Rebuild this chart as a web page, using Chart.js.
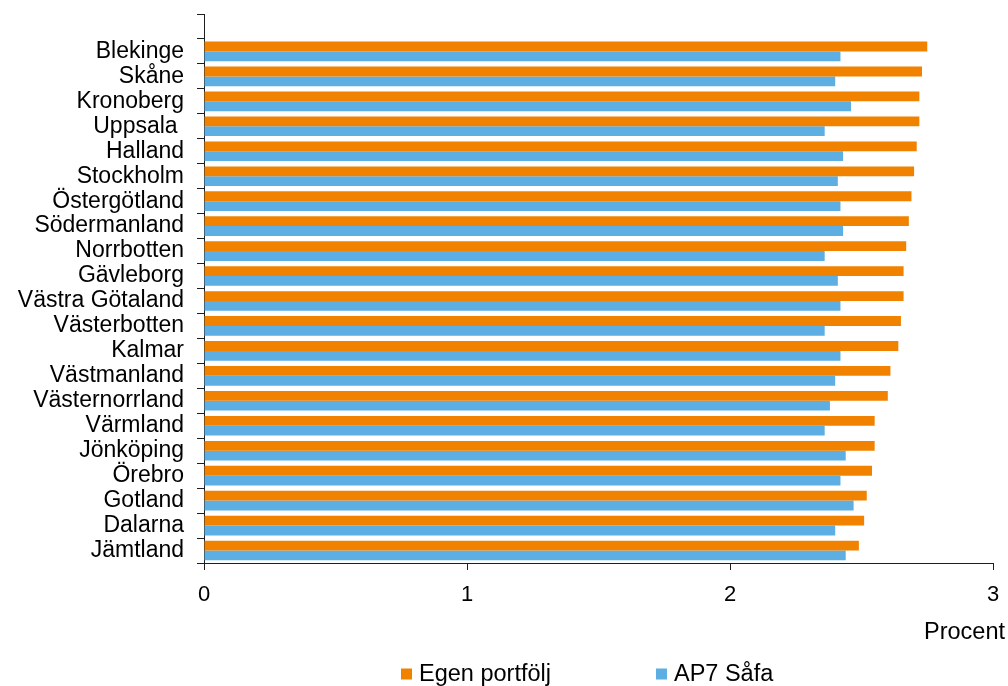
<!DOCTYPE html>
<html lang="sv">
<head>
<meta charset="utf-8">
<title>Avkastning per län</title>
<script src="https://cdn.jsdelivr.net/npm/chart.js@4.4.1/dist/chart.umd.min.js"></script>
<style>
  html, body { margin: 0; padding: 0; background: #ffffff; }
  #chart { display: block; }
</style>
</head>
<body>
<canvas id="chart" width="1008" height="686"></canvas>
<script>
// Län, sorted by the own-portfolio figure; the first row is left blank
const categories = [
  '', 'Blekinge', 'Skåne', 'Kronoberg', 'Uppsala ', 'Halland', 'Stockholm',
  'Östergötland', 'Södermanland', 'Norrbotten', 'Gävleborg', 'Västra Götaland',
  'Västerbotten', 'Kalmar', 'Västmanland', 'Västernorrland', 'Värmland',
  'Jönköping', 'Örebro', 'Gotland', 'Dalarna', 'Jämtland'
];

// Procent
const egenPortfolj = [
  null, 2.75, 2.73, 2.72, 2.72, 2.71, 2.70, 2.69, 2.68, 2.67, 2.66, 2.66,
  2.65, 2.64, 2.61, 2.60, 2.55, 2.55, 2.54, 2.52, 2.51, 2.49
];
const ap7Safa = [
  null, 2.42, 2.40, 2.46, 2.36, 2.43, 2.41, 2.42, 2.43, 2.36, 2.41, 2.42,
  2.36, 2.42, 2.40, 2.38, 2.36, 2.44, 2.42, 2.47, 2.40, 2.44
];

const seriesNames = ['Egen portfölj', 'AP7 Såfa'];
const xTicks = [0, 1, 2, 3];
const unitLabel = 'Procent';

const FONT = '"Liberation Sans", Arial, Helvetica, sans-serif';
const ORANGE = '#F08200';
const BLUE = '#5DAEE3';
const INK = '#000000';
const AXIS = '#1e1e1e';

// Unit label under the value axis plus a spaced-out legend row
const extras = {
  id: 'unitAndLegend',
  afterDraw(chart) {
    const { ctx, chartArea } = chart;
    ctx.save();
    ctx.fillStyle = INK;
    ctx.font = '23.5px ' + FONT;
    ctx.textBaseline = 'middle';
    ctx.textAlign = 'right';
    ctx.fillText(unitLabel, chartArea.right + 12, chartArea.bottom + 70);

    const y = chartArea.bottom + 111;
    let x = chartArea.left + 197;
    const box = 11;
    ctx.textAlign = 'left';
    chart.data.datasets.forEach((ds) => {
      ctx.fillStyle = ds.backgroundColor;
      ctx.fillRect(x, y - box / 2, box, box);
      ctx.fillStyle = INK;
      ctx.fillText(ds.label, x + box + 7, y + 1);
      x += 255;
    });
    ctx.restore();
  }
};

new Chart(document.getElementById('chart'), {
  type: 'bar',
  data: {
    labels: categories,
    datasets: [
      {
        label: seriesNames[0],
        data: egenPortfolj,
        backgroundColor: ORANGE,
        borderWidth: 0,
        categoryPercentage: 0.786,
        barPercentage: 1.0
      },
      {
        label: seriesNames[1],
        data: ap7Safa,
        backgroundColor: BLUE,
        borderWidth: 0,
        categoryPercentage: 0.786,
        barPercentage: 1.0
      }
    ]
  },
  options: {
    indexAxis: 'y',
    responsive: false,
    animation: false,
    devicePixelRatio: 1,
    layout: { padding: { top: 14, right: 15, left: 0, bottom: 0 } },
    plugins: {
      legend: { display: false },
      tooltip: { enabled: false },
      title: { display: false }
    },
    scales: {
      x: {
        type: 'linear',
        position: 'bottom',
        min: xTicks[0],
        max: xTicks[xTicks.length - 1],
        afterBuildTicks(scale) {
          scale.ticks = xTicks.map((v) => ({ value: v }));
        },
        afterFit(scale) {
          scale.height = 123;
          scale.paddingLeft = 0;
          scale.paddingRight = 0;
        },
        grid: {
          display: true,
          drawOnChartArea: false,
          drawTicks: true,
          tickLength: 7,
          color: AXIS,
          lineWidth: 1
        },
        border: { display: true, color: AXIS, width: 1 },
        ticks: {
          color: INK,
          font: { family: FONT, size: 22 },
          padding: 12,
          maxRotation: 0
        }
      },
      y: {
        type: 'category',
        position: 'left',
        offset: true,
        afterFit(scale) {
          scale.width = 204;
          scale.paddingTop = 0;
          scale.paddingBottom = 0;
        },
        grid: {
          display: true,
          offset: true,
          drawOnChartArea: false,
          drawTicks: true,
          tickLength: 7,
          color: AXIS,
          lineWidth: 1
        },
        border: { display: true, color: AXIS, width: 1 },
        ticks: {
          color: INK,
          font: { family: FONT, size: 23 },
          padding: 13,
          autoSkip: false
        }
      }
    }
  },
  plugins: [extras]
});
</script>
</body>
</html>
